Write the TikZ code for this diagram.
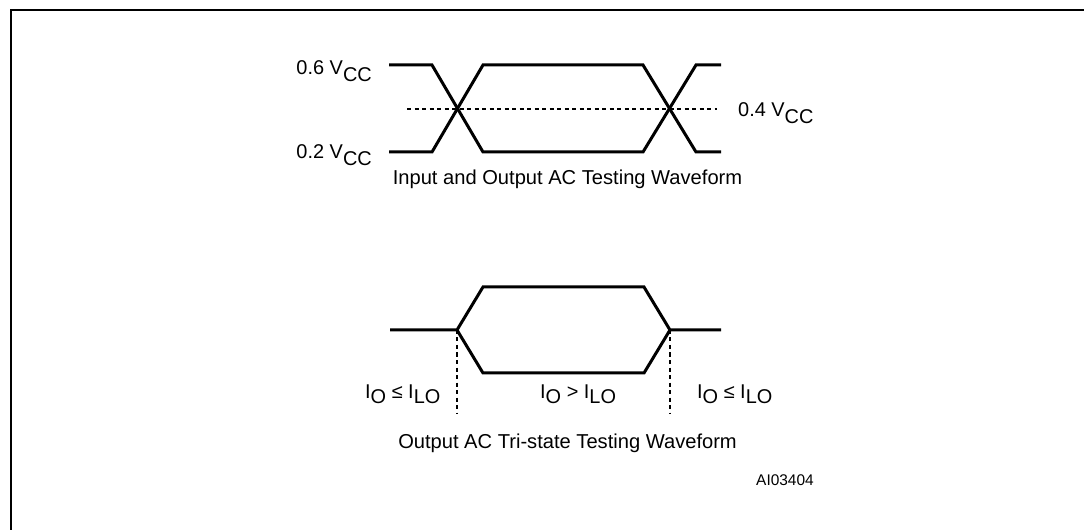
\documentclass[tikz,border=0pt]{standalone}
\usepackage{fontspec}
\setmainfont{Liberation Sans}
\begin{document}
\begin{tikzpicture}[x=1bp,y=-1bp,
  wave/.style={line width=3bp, line join=miter, line cap=butt},
  frameline/.style={line width=2bp},
  refline/.style={line width=1.1bp, dash pattern=on 4bp off 3.5bp},
  lbl/.style={font=\fontsize{20}{22}\selectfont, inner sep=0pt},
  ilbl/.style={font=\fontsize{20}{22}\selectfont, inner sep=0pt},
  captext/.style={font=\fontsize{20.2}{22}\selectfont, inner sep=0pt, anchor=base}]
\useasboundingbox (0,0) rectangle (1084,530);
% frame
\coordinate (fbl) at (11,545);
\coordinate (ftl) at (11,10);
\coordinate (ftr) at (1100,10);
\draw[frameline] (fbl) -- (ftl) -- (ftr);
% top waveform
\coordinate (hA) at (389,65);  \coordinate (hB) at (432,65);
\coordinate (lA) at (389,152); \coordinate (lB) at (432,152);
\coordinate (hC) at (483,65);  \coordinate (hD) at (643,65);
\coordinate (lC) at (483,152); \coordinate (lD) at (643,152);
\coordinate (hE) at (696,65);  \coordinate (hF) at (721,65);
\coordinate (lE) at (696,152); \coordinate (lF) at (721,152);
\draw[wave] (hA) -- (hB) -- (lC) -- (lD) -- (hE) -- (hF);
\draw[wave] (lA) -- (lB) -- (hC) -- (hD) -- (lE) -- (lF);
\coordinate (mL) at (407,109); \coordinate (mR) at (717,109);
\draw[refline] (mL) -- (mR);
\node[lbl, anchor=base east] (v6) at (372,75) {0.6 V\raisebox{-6.5bp}{CC}};
\node[lbl, anchor=base east] (v2) at (372,159) {0.2 V\raisebox{-6.5bp}{CC}};
\node[lbl, anchor=base west] (v4) at (738,117) {0.4 V\raisebox{-6.5bp}{CC}};
\node[captext] (cap1) at (567.5,185) {Input and Output AC Testing Waveform};
% bottom waveform
\coordinate (s0) at (390,330); \coordinate (s1) at (457,330);
\coordinate (t1) at (483,287); \coordinate (t2) at (644,287);
\coordinate (b1) at (483,373); \coordinate (b2) at (644,373);
\coordinate (s2) at (670,330); \coordinate (s3) at (721,330);
\draw[wave] (s0) -- (s1) -- (t1) -- (t2) -- (s2) -- (s3);
\draw[wave] (s1) -- (b1) -- (b2) -- (s2);
\coordinate (d1) at (457,413); \coordinate (d2) at (670,413);
\draw[refline, line width=1.5bp] (s1) -- (d1);
\draw[refline, line width=1.5bp] (s2) -- (d2);
\node[ilbl, anchor=base west] (iL) at (365,398) {I\raisebox{-5bp}{O} ≤ I\raisebox{-5bp}{LO}};
\node[ilbl, anchor=base west] (iM) at (540,398) {I\raisebox{-5bp}{O} > I\raisebox{-5bp}{LO}};
\node[ilbl, anchor=base west] (iR) at (697,398) {I\raisebox{-5bp}{O} ≤ I\raisebox{-5bp}{LO}};
\node[captext] (cap2) at (567.5,448) {Output AC Tri-state Testing Waveform};
\node[font=\fontsize{15.5}{17}\selectfont, inner sep=0pt, anchor=base west] (ai) at (756,485) {AI03404};
\end{tikzpicture}
\end{document}
